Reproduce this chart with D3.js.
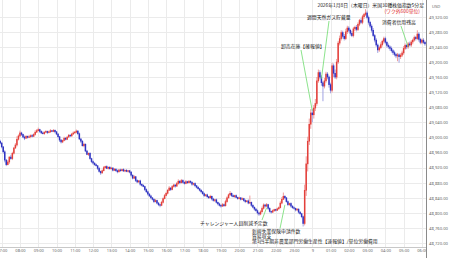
<!DOCTYPE html>
<html>
<head>
<meta charset="utf-8">
<script src="https://cdn.jsdelivr.net/npm/d3@7"></script>
<style>
  body { margin: 0; background: #fff; }
  svg { display: block; }
  text { font-family: "Noto Sans CJK JP", "Noto Sans", sans-serif; }
</style>
</head>
<body>
<svg id="chart"></svg>
<script>
// Dow (US30) 5 minute candles, Jan 8 2026 06:55 JST -> Jan 9 06:10 JST
var width = 450;
var height = 258;
var plotRight = 426, plotBottom = 247;

var firstOpen = 48990;
// one close per 5 min candle, rows are hours
var closes = [
  48985,
  48975, 48962, 48940, 48928, 48935, 48948, 48944, 48958, 48972, 48980, 48995, 49004, // 07
  49012, 49008, 49001, 48998, 49003, 49000, 49002, 49005, 49003, 49008, 49014, 49018, // 08
  49021, 49016, 49012, 49010, 49014, 49016, 49013, 49015, 49018, 49016, 49019, 49015, // 09
  49009, 49002, 48993, 48988, 48992, 48998, 48995, 49001, 49006, 49004, 49009, 49012, // 10
  49014, 49017, 49010, 48996, 48990, 48978, 48982, 48964, 48955, 48958, 48944, 48936, // 11
  48932, 48928, 48925, 48918, 48910, 48906, 48912, 48920, 48923, 48918, 48921, 48917, // 12
  48919, 48913, 48916, 48912, 48909, 48914, 48912, 48915, 48911, 48913, 48910, 48912, // 13
  48908, 48900, 48892, 48896, 48886, 48882, 48885, 48876, 48873, 48870, 48862, 48856, // 14
  48850, 48845, 48840, 48836, 48830, 48833, 48826, 48822, 48820, 48828, 48838, 48846, // 15
  48852, 48860, 48866, 48862, 48870, 48874, 48871, 48878, 48884, 48880, 48886, 48881, // 16
  48878, 48883, 48880, 48884, 48881, 48876, 48878, 48872, 48868, 48864, 48860, 48856, // 17
  48851, 48846, 48848, 48843, 48840, 48844, 48837, 48833, 48835, 48828, 48824, 48820, // 18
  48818, 48822, 48819, 48830, 48840, 48848, 48852, 48846, 48843, 48846, 48841, 48838, // 19
  48840, 48836, 48838, 48833, 48830, 48832, 48826, 48828, 48820, 48815, 48810, 48806, // 20
  48800, 48797, 48803, 48812, 48821, 48818, 48822, 48812, 48804, 48802, 48806, 48809, // 21
  48807, 48811, 48814, 48826, 48836, 48844, 48840, 48830, 48822, 48825, 48818, 48814, // 22
  48812, 48808, 48810, 48802, 48798, 48790, 48772, 48860, 48930, 48990, 49035, 49065, // 23
  49060, 49078, 49090, 49150, 49172, 49160, 49145, 49136, 49150, 49168, 49160, 49140, // 00
  49125, 49190, 49170, 49160, 49200, 49250, 49262, 49278, 49268, 49262, 49280, 49290, // 01
  49284, 49276, 49270, 49288, 49292, 49286, 49300, 49310, 49305, 49320, 49326, 49330, // 02
  49318, 49305, 49295, 49284, 49270, 49258, 49245, 49232, 49238, 49246, 49255, 49262, // 03
  49252, 49244, 49240, 49236, 49230, 49225, 49220, 49216, 49219, 49214, 49218, 49224, // 04
  49236, 49244, 49240, 49248, 49245, 49253, 49258, 49265, 49262, 49274, 49260, 49252, // 05
  49258, 49252, 49248                                                                 // 06
];
// wick lengths above / below the body, in index points
var upperWick = [
  4,
  3, 2, 4, 3, 5, 2, 6, 4, 3, 5, 8, 4,
  6, 3, 2, 4, 3, 2, 5, 3, 4, 3, 5, 4,
  5, 2, 3, 4, 2, 3, 2, 3, 4, 2, 3, 2,
  2, 3, 2, 3, 2, 4, 3, 2, 3, 2, 3, 4,
  3, 4, 2, 3, 2, 3, 4, 2, 3, 2, 3, 2,
  3, 2, 3, 2, 4, 2, 3, 4, 2, 3, 2, 3,
  3, 2, 3, 2, 3, 2, 3, 2, 3, 2, 3, 2,
  2, 3, 2, 4, 2, 3, 2, 3, 2, 3, 2, 3,
  3, 2, 3, 2, 3, 4, 2, 3, 2, 4, 3, 4,
  4, 3, 5, 2, 4, 3, 2, 4, 5, 3, 4, 3,
  3, 4, 2, 3, 2, 3, 2, 3, 2, 3, 2, 3,
  2, 3, 2, 3, 2, 4, 2, 3, 2, 3, 2, 3,
  3, 4, 3, 5, 4, 3, 6, 2, 3, 2, 3, 2,
  3, 2, 3, 2, 3, 2, 4, 18, 2, 3, 2, 3,
  3, 2, 4, 5, 4, 3, 4, 2, 3, 2, 3, 2,
  2, 3, 3, 5, 6, 10, 3, 2, 3, 2, 3, 2,
  3, 2, 3, 2, 3, 2, 3, 15, 20, 12, 15, 10,
  10, 8, 12, 10, 8, 6, 5, 5, 8, 6, 5, 4,
  5, 8, 6, 10, 8, 6, 8, 6, 5, 6, 8, 6,
  5, 4, 6, 5, 4, 6, 5, 4, 6, 5, 4, 10,
  6, 5, 4, 5, 6, 4, 5, 4, 5, 6, 4, 5,
  5, 4, 5, 4, 5, 4, 5, 4, 5, 4, 5, 6,
  6, 5, 4, 5, 6, 5, 4, 5, 4, 10, 5, 4,
  4, 5, 4
];
var lowerWick = [
  3,
  4, 5, 6, 4, 2, 5, 3, 4, 3, 2, 4, 3,
  3, 4, 3, 5, 2, 3, 2, 4, 3, 2, 3, 2,
  2, 4, 3, 2, 3, 2, 4, 2, 3, 2, 2, 4,
  3, 4, 5, 4, 3, 2, 3, 2, 2, 3, 2, 2,
  2, 3, 4, 3, 5, 2, 4, 3, 2, 4, 3, 4,
  4, 3, 2, 4, 3, 5, 2, 2, 3, 2, 3, 2,
  2, 3, 2, 3, 4, 2, 3, 2, 2, 3, 2, 3,
  3, 4, 3, 2, 4, 3, 2, 4, 3, 2, 4, 3,
  4, 3, 4, 3, 4, 2, 3, 4, 5, 2, 3, 2,
  2, 3, 2, 4, 2, 3, 4, 2, 3, 4, 2, 3,
  3, 2, 3, 2, 3, 4, 3, 4, 3, 2, 3, 4,
  3, 4, 3, 4, 3, 2, 4, 3, 4, 3, 4, 3,
  4, 2, 3, 2, 3, 2, 3, 4, 2, 3, 2, 3,
  2, 3, 2, 3, 4, 2, 3, 2, 4, 3, 4, 3,
  4, 5, 3, 2, 3, 4, 2, 4, 3, 4, 2, 3,
  3, 2, 3, 2, 3, 2, 4, 3, 4, 3, 4, 3,
  3, 4, 3, 4, 3, 4, 8, 5, 15, 20, 10, 12,
  20, 10, 8, 6, 5, 6, 8, 40, 6, 5, 6, 8,
  8, 6, 10, 5, 6, 5, 6, 5, 6, 5, 4, 6,
  5, 6, 4, 5, 6, 5, 4, 5, 4, 5, 6, 4,
  5, 6, 5, 6, 4, 6, 5, 8, 5, 4, 5, 6,
  5, 6, 5, 6, 5, 6, 5, 6, 14, 16, 6, 5,
  5, 4, 6, 5, 4, 5, 6, 4, 5, 4, 6, 5,
  5, 4, 5
];

var hourLabels = ["07:00", "08:00", "09:00", "10:00", "11:00", "12:00", "13:00", "14:00",
  "15:00", "16:00", "17:00", "18:00", "19:00", "20:00", "21:00", "22:00", "23:00", "9",
  "01:00", "02:00", "03:00", "04:00", "05:00", "06:00"];
var priceTicks = [49320, 49280, 49240, 49200, 49160, 49120, 49080, 49040, 49000,
  48960, 48920, 48880, 48840, 48800, 48760, 48720];

var noteTexts = [
  "2026年1月8日（木曜日）米国30種株価指数5分足",
  "(ワク外600単位)",
  "週間天然ガス貯蔵量",
  "消費者信用残高",
  "卸売在庫【確報値】",
  "チャレンジャー人員削減予定数",
  "新規失業保険申請件数",
  "貿易収支",
  "第3四半期非農業部門労働生産性【速報値】/単位労働費用"
];
// candle each release points to (index into closes), null = no pointer
var noteCandle = [null, null, 211, 268, 205, 175, 187, null, null];

var start = new Date(2026, 0, 8, 6, 55);
var candles = closes.map(function(c, i) {
  var o = i === 0 ? firstOpen : closes[i - 1];
  return {
    t: d3.timeMinute.offset(start, 5 * i),
    o: o, c: c,
    h: Math.max(o, c) + upperWick[i],
    l: Math.min(o, c) - lowerWick[i]
  };
});

var svg = d3.select("svg#chart")
  .attr("width", width)
  .attr("height", height);

svg.append("rect").attr("width", width).attr("height", height).attr("fill", "#fff");

var xScale = d3.scaleTime()
  .domain([new Date(2026, 0, 8, 7, 0), new Date(2026, 0, 9, 6, 0)])
  .range([1.7, 421.9]);

var yScale = d3.scaleLinear()
  .domain([48720, 49320])
  .range([243.1, 16.7]);

var hourDates = d3.timeHour.range(new Date(2026, 0, 8, 7, 0), new Date(2026, 0, 9, 6, 30));

svg.append("defs").append("clipPath").attr("id", "plotclip")
  .append("rect").attr("x", 0).attr("y", 0).attr("width", plotRight).attr("height", height);

// grid lines
var grid = svg.append("g").attr("class", "grid");
grid.selectAll("line.v")
  .data(hourDates)
  .enter().append("line")
  .attr("x1", function(d) { return Math.round(xScale(d)) + 0.5; })
  .attr("x2", function(d) { return Math.round(xScale(d)) + 0.5; })
  .attr("y1", 0).attr("y2", plotBottom)
  .attr("stroke", "#ebebeb");
grid.selectAll("line.h")
  .data(priceTicks)
  .enter().append("line")
  .attr("x1", 0).attr("x2", plotRight)
  .attr("y1", function(d) { return Math.round(yScale(d)) + 0.5; })
  .attr("y2", function(d) { return Math.round(yScale(d)) + 0.5; })
  .attr("stroke", "#ebebeb");

// candles
var upCol = "#e3403b", downCol = "#2f33c2";
var upWickCol = "#f09c9c", downWickCol = "#a0a2e2";
var cg = svg.append("g").attr("clip-path", "url(#plotclip)");

cg.selectAll("line.wick")
  .data(candles)
  .enter().append("line")
  .attr("class", "wick")
  .attr("x1", function(d) { return xScale(d.t); })
  .attr("x2", function(d) { return xScale(d.t); })
  .attr("y1", function(d) { return yScale(d.h); })
  .attr("y2", function(d) { return yScale(d.l); })
  .attr("stroke", function(d) { return d.c >= d.o ? upWickCol : downWickCol; })
  .attr("stroke-width", 1);

cg.selectAll("rect.body")
  .data(candles)
  .enter().append("rect")
  .attr("class", "body")
  .attr("x", function(d) { return xScale(d.t) - 0.75; })
  .attr("width", 1.5)
  .attr("y", function(d) { return yScale(Math.max(d.o, d.c)) - 0.3; })
  .attr("height", function(d) { return Math.max(1.2, Math.abs(yScale(d.o) - yScale(d.c)) + 0.6); })
  .attr("fill", function(d) { return d.c >= d.o ? upCol : downCol; });

// x axis
svg.append("line")
  .attr("x1", 0).attr("x2", plotRight)
  .attr("y1", plotBottom + 0.5).attr("y2", plotBottom + 0.5)
  .attr("stroke", "#c8c8c8");

var xAxis = d3.axisBottom(xScale)
  .tickValues(hourDates)
  .tickFormat(function(d, i) { return hourLabels[i]; })
  .tickSize(0)
  .tickPadding(2);

var xg = svg.append("g")
  .attr("transform", "translate(0," + plotBottom + ")")
  .attr("clip-path", "url(#plotclip)")
  .call(xAxis);
xg.select(".domain").remove();
xg.selectAll("text")
  .style("font-family", "'Noto Sans', sans-serif")
  .style("font-size", "4px")
  .attr("fill", "#666");

// y axis on the right
svg.append("line")
  .attr("x1", plotRight + 0.5).attr("x2", plotRight + 0.5)
  .attr("y1", 0).attr("y2", height)
  .attr("stroke", "#8a8a8a");

var yAxis = d3.axisRight(yScale)
  .tickValues(priceTicks)
  .tickFormat(d3.format(",.2f"))
  .tickSize(0)
  .tickPadding(3);

var yg = svg.append("g")
  .attr("transform", "translate(" + plotRight + ",0)")
  .call(yAxis);
yg.select(".domain").remove();
yg.selectAll("text")
  .style("font-family", "'Noto Sans', sans-serif")
  .style("font-size", "4.2px")
  .attr("fill", "#666");

svg.append("text")
  .attr("x", 432).attr("y", 7.5)
  .style("font-family", "'Noto Sans', sans-serif")
  .style("font-size", "4.2px")
  .attr("fill", "#666")
  .text("USD");

// annotations: label layout (x, y, anchor, colour) plus pointer start and gap
var noteLayout = [
  {x: 424, y: 7,     anchor: "end",   color: "#222"},
  {x: 420, y: 13,    anchor: "end",   color: "#e02a2a"},
  {x: 307, y: 19,    anchor: "start", color: "#222", lx: 329, ly: 21, gap: -4},
  {x: 382, y: 24,    anchor: "start", color: "#222", lx: 401, ly: 26, gap: 3},
  {x: 281, y: 48,    anchor: "start", color: "#222", lx: 301, ly: 50, gap: -4},
  {x: 200, y: 225,   anchor: "start", color: "#222", lx: 262, ly: 220, gap: 3},
  {x: 252, y: 233.2, anchor: "start", color: "#222", lx: 280, ly: 228.5, gap: 7},
  {x: 252, y: 238.0, anchor: "start", color: "#222"},
  {x: 252, y: 242.8, anchor: "start", color: "#222"}
];

var notes = noteTexts.map(function(t, i) {
  return {text: t, candle: noteCandle[i] === null ? null : candles[noteCandle[i]], pos: noteLayout[i]};
});

svg.append("g").selectAll("line.pointer")
  .data(notes.filter(function(n) { return n.candle; }))
  .enter().append("line")
  .attr("x1", function(n) { return n.pos.lx; })
  .attr("y1", function(n) { return n.pos.ly; })
  .attr("x2", function(n) { return xScale(n.candle.t); })
  .attr("y2", function(n) { return yScale(n.candle.c) + n.pos.gap; })
  .attr("stroke", "#6fdc6f")
  .attr("stroke-width", 0.8);

svg.append("g").selectAll("text.note")
  .data(notes)
  .enter().append("text")
  .attr("x", function(n) { return n.pos.x; })
  .attr("y", function(n) { return n.pos.y; })
  .attr("text-anchor", function(n) { return n.pos.anchor; })
  .attr("fill", function(n) { return n.pos.color; })
  .style("font-size", "4.85px")
  .text(function(n) { return n.text; });
</script>
</body>
</html>
